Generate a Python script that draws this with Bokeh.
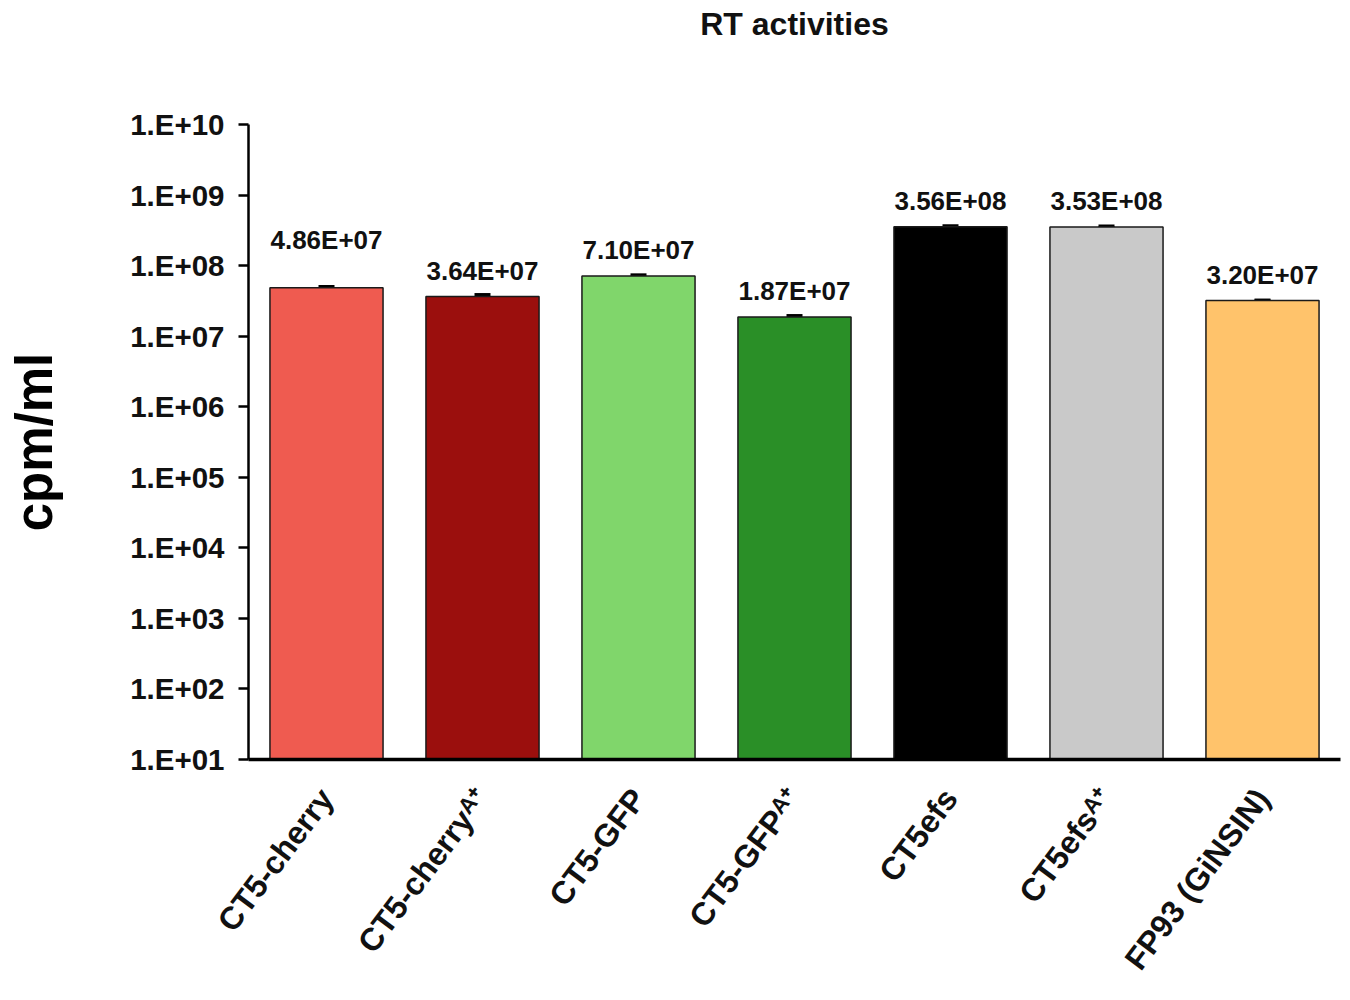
from bokeh.plotting import figure
from bokeh.models import ColumnDataSource, Whisker, TeeHead, FixedTicker, CustomJSTickFormatter, Title
from bokeh.core.properties import value
from bokeh.embed import file_html
from bokeh.resources import INLINE

# ---- data ----
categories = ["CT5-cherry", "CT5-cherry\u1d2c\u207a", "CT5-GFP", "CT5-GFP\u1d2c\u207a",
              "CT5efs", "CT5efs\u1d2c\u207a", "FP93 (GiNSIN)"]
rt_values = [4.86e7, 3.64e7, 7.10e7, 1.87e7, 3.56e8, 3.53e8, 3.20e7]
rt_errors = [2.0e6, 2.5e6, 3.0e6, 0.9e6, 1.0e7, 1.0e7, 0.5e6]
bar_colors = ["#EF5B50", "#9B0F0D", "#80D66B", "#2A8F27", "#000000", "#C9C9C9", "#FFC36B"]
exponents = list(range(1, 11))
title_text = "RT activities"

# ---- styles ----
FONT = "Liberation Sans"
label_lift = [22, 0, 0, 0, 0, 0, 0]  # extra upward offset (px) of value labels

src = ColumnDataSource(dict(
    cats=categories,
    vals=rt_values,
    upper=[v + e for v, e in zip(rt_values, rt_errors)],
    lower=[v - e for v, e in zip(rt_values, rt_errors)],
    colors=bar_colors,
    labels=[f"{v:.2E}" for v in rt_values],
    yoff=[-26 - l for l in label_lift],
))

p = figure(x_range=categories, y_axis_type="log", y_range=(10, 1e10),
           width=1344, height=990, output_backend="svg", toolbar_location=None,
           min_border_left=248, min_border_right=4, min_border_top=124, min_border_bottom=228)

p.vbar(x="cats", top="vals", bottom=10, width=0.725, source=src,
       fill_color="colors", line_color="#1a1a1a", line_width=1.5)

whisk = Whisker(base="cats", upper="upper", lower="lower", source=src,
                line_color="black", line_width=3,
                upper_head=TeeHead(size=16, line_width=3, line_color="black"),
                lower_head=TeeHead(size=16, line_width=3, line_color="black"))
p.add_layout(whisk)

p.text(x="cats", y="vals", text="labels", source=src, y_offset="yoff",
       text_align="center", text_baseline="alphabetic",
       text_font=value(FONT), text_font_style="bold", text_font_size="26px", text_color="#111111")

# title: spacer panel next to the frame, real title above it
p.title.text = ""
spacer = Title(text=" ", text_font_size="1px", standoff=76)
p.add_layout(spacer, "above")
main_title = Title(text=title_text, align="center", vertical_align="top",
                   text_font=FONT, text_font_style="bold", text_font_size="32px",
                   text_color="#111111", standoff=3)
p.add_layout(main_title, "above")

# y axis
p.yaxis.ticker = FixedTicker(ticks=[10.0 ** k for k in exponents])
p.yaxis.formatter = CustomJSTickFormatter(
    code="return '1.E+' + String(Math.round(Math.log10(tick))).padStart(2, '0');")
p.yaxis.axis_label = "cpm/ml"
p.yaxis.axis_label_text_font = FONT
p.yaxis.axis_label_text_font_style = "bold"
p.yaxis.axis_label_text_font_size = "51px"
p.yaxis.axis_label_text_color = "#000000"
p.yaxis.axis_label_standoff = 64
p.yaxis.major_label_text_font = FONT
p.yaxis.major_label_text_font_style = "bold"
p.yaxis.major_label_text_font_size = "29.5px"
p.yaxis.major_label_text_color = "#111111"
p.yaxis.major_label_standoff = 14
p.yaxis.major_tick_out = 10
p.yaxis.major_tick_in = 0
p.yaxis.major_tick_line_width = 2.5
p.yaxis.minor_tick_out = 0
p.yaxis.minor_tick_in = 0
p.yaxis.axis_line_width = 2.5

# x axis
p.xaxis.major_label_orientation = 0.925
p.xaxis.major_label_text_font = FONT
p.xaxis.major_label_text_font_style = "bold"
p.xaxis.major_label_text_font_size = "32px"
p.xaxis.major_label_text_color = "#111111"
p.xaxis.major_label_standoff = 33
p.xaxis.major_tick_out = 0
p.xaxis.major_tick_in = 0
p.xaxis.axis_line_width = 3.5

p.xgrid.grid_line_color = None
p.ygrid.grid_line_color = None
p.outline_line_color = None
p.x_range.range_padding = 0

open("out.html", "w").write(file_html(p, INLINE))
